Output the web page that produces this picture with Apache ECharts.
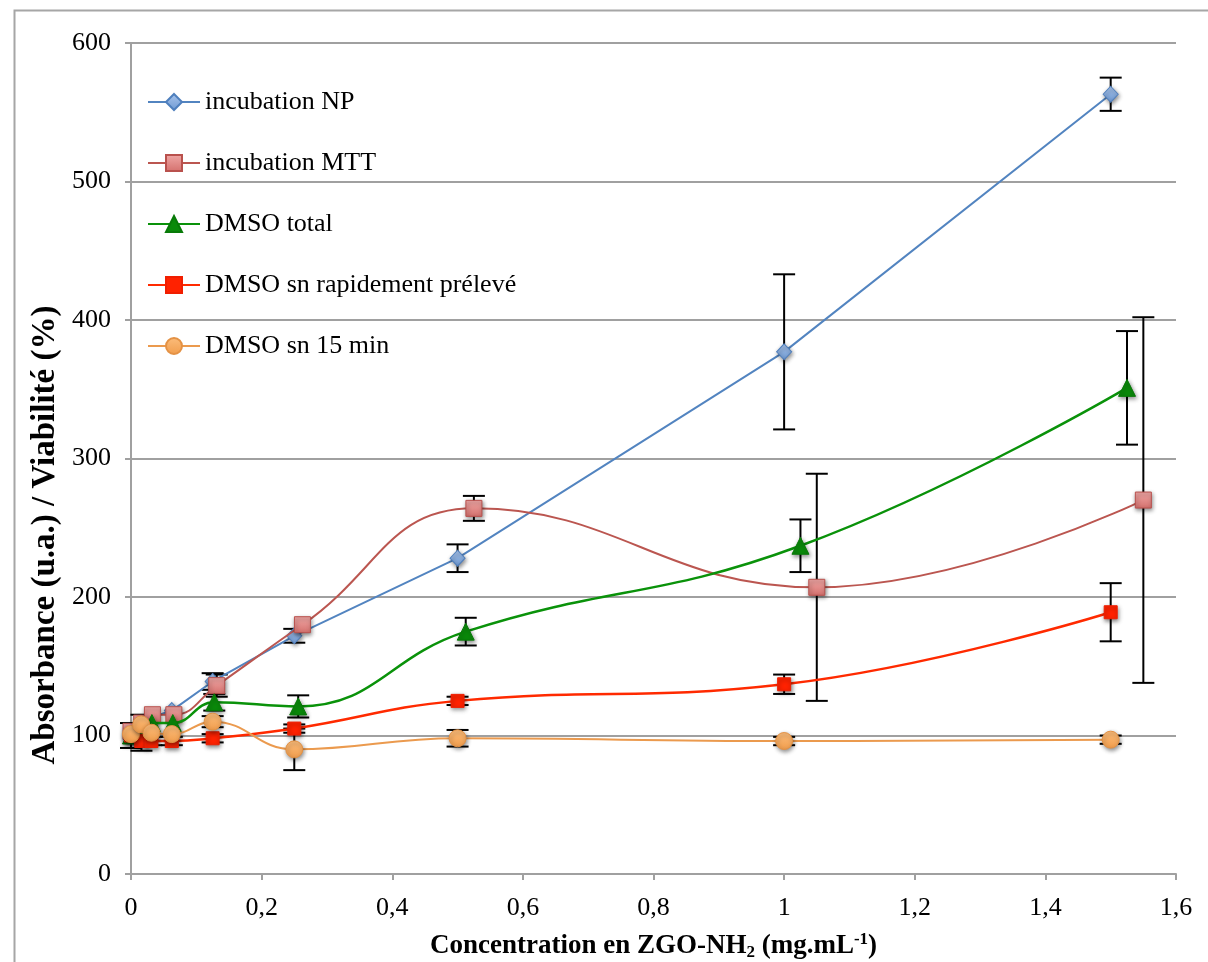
<!DOCTYPE html>
<html>
<head>
<meta charset="utf-8">
<script src="https://cdn.jsdelivr.net/npm/echarts@6/dist/echarts.min.js"></script>
<style>
html,body{margin:0;padding:0;background:#fff;}
#chart{width:1208px;height:962px;}
</style>
</head>
<body>
<div id="chart"></div>
<script>
// ---- data ----
var seriesNames = ['incubation NP', 'incubation MTT', 'DMSO total', 'DMSO sn rapidement prélevé', 'DMSO sn 15 min'];
var yTitle = 'Absorbance (u.a.) / Viabilité (%)';

var npX   = [0, 0.0156, 0.03125, 0.0625, 0.125, 0.25, 0.5, 1.0, 1.5];
var npY   = [100, 106, 113, 118, 139, 172, 228, 377, 563];
var npErr = [9, 0, 0, 0, 6, 5, 10, 56, 12];

var mttX   = [0, 0.0164, 0.0328, 0.0656, 0.13125, 0.2625, 0.525, 1.05, 1.55];
var mttY   = [103, 109, 115, 115, 136, 180, 264, 207, 270];
var mttErr = [0, 0, 0, 0, 8, 0, 9, 82, 132];

var totX   = [0, 0.016, 0.032, 0.064, 0.1275, 0.256, 0.5125, 1.025, 1.525];
var totY   = [100, 102, 109, 109, 124, 121, 175, 237, 351];
var totErr = [0, 13, 0, 0, 6, 8, 10, 19, 41];

var rapX   = [0, 0.0156, 0.03125, 0.0625, 0.125, 0.25, 0.5, 1.0, 1.5];
var rapY   = [100, 96, 96, 96, 98, 105, 125, 137, 189];
var rapErr = [0, 0, 3, 3, 3, 3, 3, 7, 21];

var minX   = [0, 0.0156, 0.03125, 0.0625, 0.125, 0.25, 0.5, 1.0, 1.5];
var minY   = [101, 108, 102, 101, 110, 90, 98, 96, 97];
var minErr = [0, 0, 0, 0, 4, 15, 6, 3, 3];

var yTicks = [0, 100, 200, 300, 400, 500, 600];

// ---- build ----
function pts(xs, ys) { return xs.map(function (x, i) { return [x, ys[i]]; }); }
function errs(xs, ys, es) {
  var out = [];
  xs.forEach(function (x, i) { if (es[i] > 0) out.push([x, ys[i] - es[i], ys[i] + es[i]]); });
  return out;
}
var errData = [].concat(
  errs(npX, npY, npErr), errs(mttX, mttY, mttErr), errs(totX, totY, totErr),
  errs(rapX, rapY, rapErr), errs(minX, minY, minErr));

var serif = '"Liberation Serif", "Times New Roman", serif';
var shadow = {shadowBlur: 4, shadowColor: 'rgba(0,0,0,0.45)', shadowOffsetY: 2, shadowOffsetX: 1};
function grad(a, b) {
  return {type: 'linear', x: 0, y: 0, x2: 0, y2: 1, colorStops: [{offset: 0, color: a}, {offset: 1, color: b}]};
}

var chart = echarts.init(document.getElementById('chart'), null, {renderer: 'canvas'});
chart.setOption({
  animation: false,
  backgroundColor: '#ffffff',
  textStyle: {fontFamily: serif},
  graphic: [{
    type: 'rect', left: 12, top: 8, shape: {width: 1400, height: 1200},
    style: {fill: 'none', stroke: '#a6a6a6', lineWidth: 2}, silent: true, z: -10
  }, {
    type: 'text', x: 45, y: 535, rotation: Math.PI / 2, silent: true,
    style: {text: yTitle, font: 'bold 33px "Liberation Serif", "Times New Roman", serif', fill: '#000', align: 'center', verticalAlign: 'middle'}
  }],
  grid: {left: 131, right: 32, top: 43, bottom: 88, containLabel: false, outerBoundsMode: 'none'},
  legend: {
    orient: 'vertical', left: 147, top: 89, padding: 0, itemWidth: 52, itemHeight: 20, itemGap: 35,
    data: seriesNames,
    textStyle: {fontFamily: serif, fontSize: 26, color: '#000', padding: [0, 0, 0, 0]}
  },
  xAxis: {
    type: 'value', min: 0, max: 1.6, interval: 0.2,
    axisLine: {show: true, lineStyle: {color: '#a0a0a0', width: 2}},
    axisTick: {show: true, length: 6, lineStyle: {color: '#a0a0a0', width: 2}},
    splitLine: {show: false},
    axisLabel: {
      fontFamily: serif, fontSize: 26, color: '#000', margin: 21,
      formatter: function (v) { return String(+v.toFixed(1)).replace('.', ','); }
    },
    name: 'Concentration en ZGO-NH{sub|2} (mg.mL{sup|-1})',
    nameLocation: 'middle', nameGap: 57,
    nameTextStyle: {
      fontFamily: serif, fontSize: 27, fontWeight: 'bold', color: '#000', lineHeight: 30,
      rich: {
        sub: {fontFamily: serif, fontSize: 17, fontWeight: 'bold', color: '#000', verticalAlign: 'bottom', lineHeight: 20, padding: [12, 0, 0, 0]},
        sup: {fontFamily: serif, fontSize: 17, fontWeight: 'bold', color: '#000', verticalAlign: 'top', lineHeight: 20, padding: [0, 0, 10, 0]}
      }
    }
  },
  yAxis: {
    type: 'value', min: 0, max: 600, interval: 100,
    axisLine: {show: true, lineStyle: {color: '#a0a0a0', width: 2}},
    axisTick: {show: true, length: 6, lineStyle: {color: '#a0a0a0', width: 2}},
    splitLine: {show: true, lineStyle: {color: '#a0a0a0', width: 2}},
    axisLabel: {
      fontFamily: serif, fontSize: 26, color: '#000', margin: 20,
      formatter: function (v) { return yTicks.indexOf(v) >= 0 ? String(v) : ''; }
    }
  },
  series: [
    {
      type: 'custom', name: 'err', z: 1, silent: true,
      data: errData, encode: {x: 0, y: [1, 2]},
      renderItem: function (params, api) {
        var lo = api.coord([api.value(0), api.value(1)]);
        var hi = api.coord([api.value(0), api.value(2)]);
        var w = 11;
        var st = {stroke: '#000', lineWidth: 2};
        return {type: 'group', children: [
          {type: 'line', shape: {x1: lo[0], y1: lo[1], x2: hi[0], y2: hi[1]}, style: st},
          {type: 'line', shape: {x1: lo[0] - w, y1: lo[1], x2: lo[0] + w, y2: lo[1]}, style: st},
          {type: 'line', shape: {x1: hi[0] - w, y1: hi[1], x2: hi[0] + w, y2: hi[1]}, style: st}
        ]};
      }
    },
    {
      type: 'line', name: seriesNames[0], z: 2, data: pts(npX, npY), smooth: false,
      symbol: 'diamond', symbolSize: [15, 16],
      lineStyle: {color: '#5284c0', width: 2},
      itemStyle: Object.assign({color: grad('#a9c5ec', '#6e99d3'), borderColor: '#4f7fbd', borderWidth: 1}, shadow)
    },
    {
      type: 'line', name: seriesNames[1], z: 3, data: pts(mttX, mttY), smooth: 0.45,
      symbol: 'rect', symbolSize: 16,
      lineStyle: {color: '#bb5650', width: 2},
      itemStyle: Object.assign({color: grad('#f0a8a6', '#d4706d'), borderColor: '#b9514d', borderWidth: 1}, shadow)
    },
    {
      type: 'line', name: seriesNames[2], z: 4, data: pts(totX, totY), smooth: 0.45,
      symbol: 'triangle', symbolSize: 17,
      lineStyle: {color: '#0a920a', width: 2.5},
      itemStyle: Object.assign({color: '#0a8a0a', borderColor: '#087a08', borderWidth: 1}, shadow)
    },
    {
      type: 'line', name: seriesNames[3], z: 5, data: pts(rapX, rapY), smooth: 0.45,
      symbol: 'rect', symbolSize: 13,
      lineStyle: {color: '#ff2a00', width: 2.5},
      itemStyle: Object.assign({color: '#ff2200', borderColor: '#f01e00', borderWidth: 1}, shadow)
    },
    {
      type: 'line', name: seriesNames[4], z: 6, data: pts(minX, minY), smooth: 0.45,
      symbol: 'circle', symbolSize: 17,
      lineStyle: {color: '#eb9a4e', width: 2},
      itemStyle: Object.assign({color: grad('#fbbd7c', '#f19d4c'), borderColor: '#e49245', borderWidth: 1}, shadow)
    }
  ]
});
</script>
</body>
</html>
